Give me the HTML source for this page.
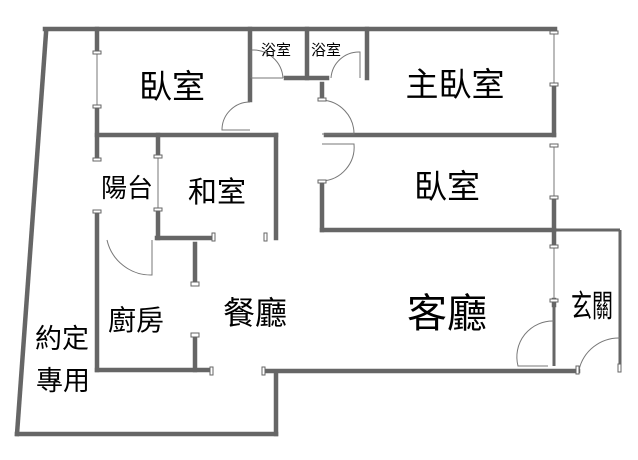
<!DOCTYPE html>
<html><head><meta charset="utf-8"><style>
html,body{margin:0;padding:0;background:#fff;}
svg{display:block}
text{font-family:"Liberation Sans","Noto Sans CJK TC",sans-serif;fill:#000;}
</style></head><body>
<svg width="638" height="460" viewBox="0 0 638 460">
<g stroke="#666" stroke-width="4.5" fill="none" stroke-linecap="square">
<!-- outer -->
<line x1="46" y1="33" x2="17" y2="434"/>
<line x1="17" y1="434" x2="276" y2="434"/>
<line x1="276" y1="434" x2="276" y2="372"/>
<line x1="45" y1="29" x2="555" y2="29"/>
<!-- left bedroom -->
<line x1="97" y1="29" x2="97" y2="52"/>
<line x1="97" y1="108" x2="97" y2="158"/>
<line x1="97" y1="212" x2="97" y2="370"/>
<line x1="97" y1="135" x2="276" y2="135"/>
<line x1="276" y1="135" x2="276" y2="238"/>
<line x1="250" y1="29" x2="250" y2="100"/>
<line x1="286" y1="78" x2="327" y2="78"/>
<line x1="307" y1="29" x2="307" y2="78"/>
<line x1="367" y1="29" x2="367" y2="78"/>
<line x1="322" y1="84" x2="322" y2="99"/>
<!-- right bedrooms -->
<line x1="326" y1="135" x2="554" y2="135"/>
<line x1="554" y1="86" x2="554" y2="135"/>
<line x1="554" y1="198" x2="554" y2="246"/>
<line x1="554" y1="300" x2="554" y2="305"/>
<line x1="322" y1="182" x2="322" y2="230"/>
<line x1="322" y1="230" x2="554" y2="230"/>
<!-- kitchen/japanese -->
<line x1="158" y1="135" x2="158" y2="155"/>
<line x1="158" y1="210" x2="158" y2="238"/>
<line x1="157" y1="238" x2="212" y2="238"/>
<line x1="195" y1="244" x2="195" y2="282"/>
<line x1="195" y1="336" x2="195" y2="370"/>
<line x1="97" y1="370" x2="210" y2="370"/>
<line x1="266" y1="371" x2="578" y2="371"/>
</g>
<g stroke="#666" stroke-width="3" fill="none">
<line x1="554" y1="230" x2="620" y2="230"/>
<line x1="620" y1="230" x2="620" y2="365"/>
<line x1="554" y1="305" x2="554" y2="366"/>
</g>
<g stroke="#777" stroke-width="1" fill="none">
<line x1="97" y1="53" x2="97" y2="106"/>
<line x1="158" y1="156" x2="158" y2="209"/>
<line x1="554" y1="33" x2="554" y2="85"/>
<line x1="554" y1="146" x2="554" y2="198"/>
<line x1="554" y1="247" x2="554" y2="300"/>
<line x1="251" y1="50" x2="251" y2="78"/><line x1="251" y1="78" x2="283" y2="78"/>
<path d="M252 50 A30 30 0 0 1 283 78"/>
<path d="M250 102 A28 28 0 0 0 222 130 L250 130"/>
<path d="M331 78 A28 28 0 0 1 360 52 L360 78"/>
<path d="M322 100 A34 34 0 0 1 354 134 L322 134"/>
<path d="M322 181 A34 34 0 0 0 354 144 L322 144"/>
<path d="M107 240 A45 45 0 0 0 152 275 L152 240"/>
<path d="M554 321 A36 36 0 0 0 518 366 L548 366"/>
<path d="M579 370 A41 41 0 0 1 620 338"/>
</g>
<g fill="#fff" stroke="#666" stroke-width="1">
<rect x="93" y="51" width="8" height="3"/><rect x="93" y="105" width="8" height="3"/>
<rect x="93" y="158" width="8" height="3"/><rect x="93" y="210" width="8" height="3"/>
<rect x="154" y="155" width="8" height="3"/><rect x="154" y="208" width="8" height="3"/>
<rect x="550" y="31" width="8" height="3"/><rect x="550" y="83" width="8" height="3"/>
<rect x="550" y="144" width="8" height="3"/><rect x="550" y="196" width="8" height="3"/>
<rect x="550" y="245" width="8" height="3"/><rect x="550" y="299" width="8" height="3"/>
<rect x="191" y="282" width="8" height="4"/><rect x="191" y="333" width="8" height="4"/>
<rect x="212" y="233" width="3" height="8"/><rect x="264" y="233" width="3" height="8"/>
<rect x="210" y="367" width="3" height="8"/><rect x="262" y="367" width="3" height="8"/>
<rect x="318" y="98" width="8" height="3"/><rect x="318" y="180" width="8" height="3"/>
<rect x="576" y="366" width="3" height="8"/><rect x="618" y="364" width="3" height="8"/>
</g>
<text x="172" y="98" font-size="33" text-anchor="middle">臥室</text>
<text x="276" y="55" font-size="15" text-anchor="middle">浴室</text>
<text x="326" y="55" font-size="15" text-anchor="middle">浴室</text>
<text x="455" y="96" font-size="33" text-anchor="middle">主臥室</text>
<text x="447" y="198" font-size="33" text-anchor="middle">臥室</text>
<text x="127" y="197" font-size="26" text-anchor="middle">陽台</text>
<text x="217" y="202" font-size="29" text-anchor="middle">和室</text>
<text x="136" y="330" font-size="28" text-anchor="middle">廚房</text>
<text x="255" y="324" font-size="32" text-anchor="middle">餐廳</text>
<text x="447" y="327" font-size="40" text-anchor="middle">客廳</text>
<text x="592" y="317" font-size="31" text-anchor="middle" textLength="42" lengthAdjust="spacingAndGlyphs">玄關</text>
<text x="62" y="348" font-size="27" text-anchor="middle">約定</text>
<text x="63" y="390" font-size="27" text-anchor="middle">專用</text>
</svg>
</body></html>
